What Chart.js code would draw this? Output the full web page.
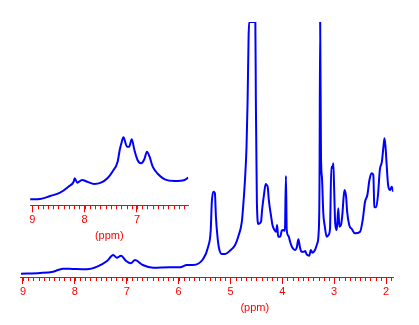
<!DOCTYPE html>
<html><head><meta charset="utf-8">
<script src="https://cdn.jsdelivr.net/npm/chart.js@4"></script>
<style>
html,body{margin:0;padding:0;background:#fff;}
#wrap{position:relative;width:419px;height:325px;}
canvas{position:absolute;left:0;top:0;}
</style></head><body>
<div id="wrap"><canvas id="main" width="419" height="325"></canvas><canvas id="inset" width="419" height="325"></canvas></div>
<script>
// Main spectrum: chemical shift (ppm) and intensity
const MAIN_PPM = [9.04,8.67,8.42,8.23,8.04,7.77,7.57,7.38,7.26,7.19,7.11,7.01,6.92,6.84,6.69,6.49,6.17,5.97,5.84,5.72,5.53,5.43,5.38,5.36,5.33,5.30,5.28,5.25,5.22,5.17,5.10,5.01,4.91,4.85,4.78,4.75,4.72,4.69,4.67,4.65,4.64,4.52,4.51,4.49,4.46,4.41,4.39,4.35,4.32,4.30,4.28,4.26,4.22,4.19,4.15,4.12,4.10,4.08,4.04,4.01,3.98,3.95,3.93,3.915,3.88,3.85,3.81,3.755,3.72,3.69,3.66,3.63,3.58,3.56,3.53,3.48,3.45,3.42,3.37,3.33,3.30,3.283,3.27,3.254,3.235,3.21,3.18,3.144,3.11,3.08,3.055,3.03,3.017,3.00,2.98,2.95,2.92,2.90,2.87,2.84,2.82,2.80,2.77,2.75,2.71,2.66,2.60,2.50,2.45,2.405,2.36,2.32,2.28,2.245,2.226,2.19,2.155,2.12,2.08,2.05,2.03,2.01,1.99,1.96,1.92,1.89,1.86];
const MAIN_INT = [3.3,4,5.3,8.3,8,7.7,10.3,16,22,19.3,21.3,16,13.7,17,12,9.3,9.7,9.7,12,12,17.7,30.3,47,74,85.3,84,60.3,40.3,28.7,23,23,26.3,32,40.3,55.3,73.7,97,130.3,174,240,255,255,177,74,53,55.3,67,83.7,93,92,89.7,77,62,52,47,45.3,52,40.3,40.3,46.3,47,46.3,101,47,41,35.3,29.7,27,29.7,37.7,29.7,25.3,25.3,26,22.7,21.3,27,24.3,27,33,43.7,90.3,255,120.3,99,64,50.3,40.3,42,48.7,110.3,109,113.7,87,53.7,47,68.7,50.3,52,63.7,78.7,87,80.3,65.3,52,48,43.7,45.3,57,75.3,82,97,103.7,102,70.3,69.7,82,107,115.3,130.3,138.7,130.3,113.7,92,87,90.3,85.3];
// Inset (aromatic region, vertically expanded)
const INSET_PPM = [9.04,8.85,8.66,8.47,8.31,8.21,8.19,8.14,8.05,7.95,7.82,7.69,7.565,7.47,7.37,7.33,7.29,7.26,7.19,7.15,7.10,7.05,6.99,6.92,6.86,6.81,6.76,6.70,6.60,6.47,6.28,6.09,6.02];
const INSET_INT = [6,6.3,9.3,12.6,18.6,23.6,27,22.6,25.3,23.6,21.3,22.6,27,33.6,43.6,55.3,63.6,68,58.6,58.6,66,55.3,45.3,42,46,53.6,48.6,38.6,31.3,26,24.3,25.3,27.6];
const MAIN_TICKS = [9,8,7,6,5,4,3,2];
const INSET_TICKS = [9,8,7];
const MINOR_STEP = 0.1;
const AXIS_LABEL = '(ppm)';

const RED = '#ff0000', BLUE = '#0000ff';
const FONT = {family: '"Liberation Sans", Arial, sans-serif', size: 11};

function minorTicksPlugin(id, range, labelAt, labelY) {
  return {
    id: id,
    afterDraw(chart) {
      const s = chart.scales.x, ctx = chart.ctx;
      ctx.save();
      ctx.strokeStyle = RED; ctx.lineWidth = 1;
      ctx.beginPath();
      const n = Math.round((range[0] - range[1]) / MINOR_STEP);
      for (let i = 0; i <= n; i++) {
        const v = range[0] - i * MINOR_STEP;
        const px = Math.round(s.getPixelForValue(v)) + 0.5;
        ctx.moveTo(px, s.top); ctx.lineTo(px, s.top + 4);
      }
      ctx.stroke();
      ctx.fillStyle = RED;
      ctx.font = FONT.size + 'px ' + FONT.family;
      ctx.textAlign = 'center'; ctx.textBaseline = 'middle';
      ctx.fillText(AXIS_LABEL, s.getPixelForValue(labelAt), labelY);
      ctx.restore();
    }
  };
}

function makeChart(el, xs, ys, xmin, xmax, ymax, ticks, pad, axisH, plugin) {
  return new Chart(document.getElementById(el), {
    type: 'line',
    data: {datasets: [{data: xs.map((x, i) => ({x: x, y: ys[i]})), borderColor: BLUE, borderWidth: 2,
      pointRadius: 0, cubicInterpolationMode: 'monotone', fill: false}]},
    options: {
      responsive: false, animation: false, devicePixelRatio: 1,
      layout: {padding: pad},
      plugins: {legend: {display: false}, tooltip: {enabled: false}},
      scales: {
        x: {type: 'linear', reverse: true, min: xmin, max: xmax,
          afterBuildTicks: s => { s.ticks = ticks.map(v => ({value: v})); },
          afterFit: s => { s.height = axisH; },
          grid: {drawOnChartArea: false, drawTicks: true, tickLength: 7, tickColor: RED, tickWidth: 1},
          border: {display: true, color: RED, width: 1},
          ticks: {color: RED, font: FONT, padding: 1, autoSkip: false, maxRotation: 0,
            callback: v => String(v)}},
        y: {display: false, min: 0, max: ymax}
      }
    },
    plugins: [plugin]
  });
}

makeChart('main', MAIN_PPM, MAIN_INT, 1.86, 9.044, 255, MAIN_TICKS,
  {left: 20.7, right: 25.7, top: 22, bottom: 18}, 30,
  minorTicksPlugin('minorMain', [9.0, 1.9], 4.53, 307.5));
makeChart('inset', INSET_PPM, INSET_INT, 6.02, 9.044, 85.3, INSET_TICKS,
  {left: 30, right: 230.7, top: 120, bottom: 89.7}, 30,
  minorTicksPlugin('minorInset', [9.0, 6.1], 7.53, 235.8));
</script></body></html>
